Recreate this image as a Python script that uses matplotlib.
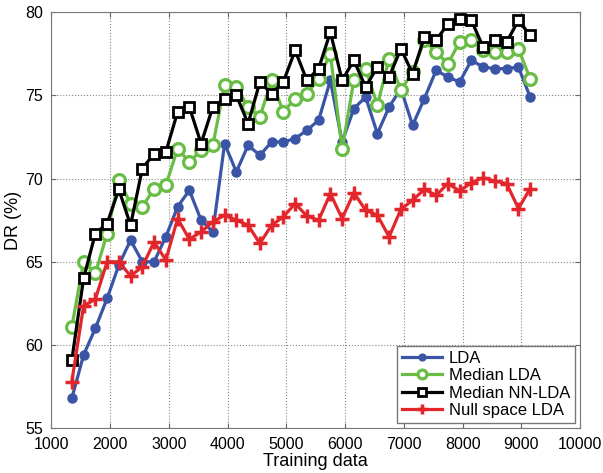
import numpy as np
import matplotlib
matplotlib.use('Agg')
import matplotlib.pyplot as plt

plt.rcParams['font.family'] = ['Liberation Sans', 'DejaVu Sans']

# training set sizes
train_size = np.arange(1350, 9151, 200)

lda = [56.8, 59.4, 61.0, 62.8, 64.8, 66.3, 65.0, 65.0, 66.5, 68.3,
       69.3, 67.5, 66.8, 72.1, 70.4, 72.0, 71.4, 72.2, 72.2, 72.4,
       72.9, 73.5, 75.9, 72.2, 74.2, 74.9, 72.7, 74.3, 75.4, 73.2,
       74.8, 76.5, 76.1, 75.8, 77.1, 76.7, 76.6, 76.6, 76.7, 74.9]
median_lda = [61.1, 65.0, 64.3, 66.7, 69.9, 68.5, 68.3, 69.4, 69.6, 71.8,
              71.0, 71.7, 72.0, 75.6, 75.5, 74.3, 73.7, 75.9, 74.0, 74.8,
              75.1, 76.0, 77.5, 71.75, 75.9, 76.6, 74.4, 77.2, 75.3, 76.4,
              78.3, 77.6, 76.9, 78.2, 78.3, 77.7, 77.6, 77.6, 77.8, 76.0]
median_nn_lda = [59.1, 64.0, 66.7, 67.3, 69.35, 67.2, 70.6, 71.5, 71.6, 74.0,
                 74.3, 72.1, 74.3, 74.8, 75.0, 73.3, 75.8, 75.1, 75.8, 77.7,
                 75.9, 76.6, 78.8, 75.9, 77.1, 75.5, 76.7, 76.1, 77.8, 76.3,
                 78.5, 78.3, 79.3, 79.6, 79.5, 77.9, 78.3, 78.2, 79.5, 78.6]
null_space_lda = [57.8, 62.35, 62.75, 65.0, 65.0, 64.15, 64.7, 66.2, 65.1, 67.6,
                  66.35, 66.8, 67.4, 67.8, 67.5, 67.2, 66.1, 67.2, 67.7, 68.5,
                  67.75, 67.5, 69.1, 67.6, 69.15, 68.1, 67.8, 66.5, 68.15, 68.7,
                  69.35, 69.0, 69.7, 69.25, 69.75, 70.05, 69.85, 69.7, 68.2, 69.4]

blue = '#3a55a6'
green = '#69bd45'
red = '#e2262b'

fig = plt.figure(figsize=(6.03, 4.73), dpi=100)
ax = fig.add_axes([0.085, 0.0945, 0.877, 0.880])

ax.plot(train_size, lda, color=blue, lw=2.3, marker='o', ms=6.5,
        mfc=blue, mec=blue, label='LDA')
ax.plot(train_size, median_lda, color=green, lw=2.3, marker='o', ms=8.5,
        mfc='white', mec=green, mew=2.3, label='Median LDA')
ax.plot(train_size, median_nn_lda, color='black', lw=2.3, marker='s', ms=7,
        mfc='white', mec='black', mew=2.0, label='Median NN-LDA')
ax.plot(train_size, null_space_lda, color=red, lw=2.3, marker='+', ms=9.5,
        mew=2.5, label='Null space LDA')

ax.set_xlim(1000, 10000)
ax.set_ylim(55, 80)
ax.set_xticks(np.arange(1000, 10001, 1000))
ax.set_yticks(np.arange(55, 81, 5))
ax.grid(True, linestyle=':', color='#888888', lw=0.8)
ax.tick_params(direction='in', labelsize=11.5, top=True, right=True,
               color='#666666', pad=6)
for s in ax.spines.values():
    s.set_color('#777777')

ax.set_xlabel('Training data', fontsize=13, labelpad=1)
ax.set_ylabel('DR (%)', fontsize=13, labelpad=2)

leg = ax.legend(loc='lower right', fontsize=12, handlelength=2.4,
                markerscale=0.75, fancybox=False, framealpha=1,
                borderaxespad=0.3, borderpad=0.3, labelspacing=0.15,
                handletextpad=0.4)
leg.get_frame().set_edgecolor('#777777')

fig.savefig('out.png', dpi=100)
